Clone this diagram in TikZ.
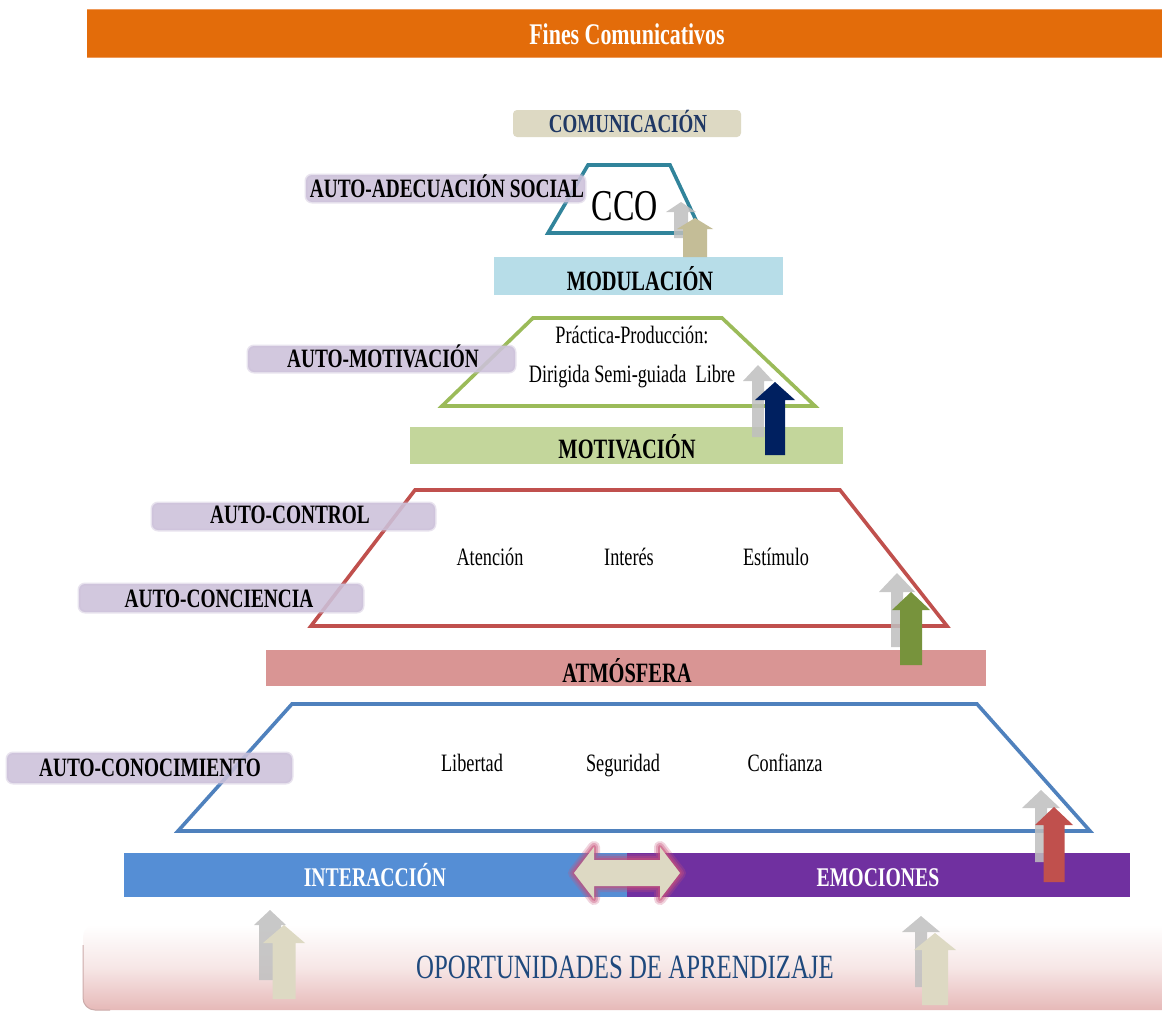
\documentclass[tikz,border=0pt]{standalone}
\usepackage{fontspec}
\setmainfont[FakeStretch=0.73]{Liberation Serif}

\definecolor{finesorange}{HTML}{E36C0A}
\definecolor{finesedge}{HTML}{EE9A5A}
\definecolor{commbg}{HTML}{DDD9C3}
\definecolor{commtext}{HTML}{1F3864}
\definecolor{ccoteal}{HTML}{31849B}
\definecolor{modbg}{HTML}{B7DDE8}
\definecolor{motline}{HTML}{9BBB59}
\definecolor{motbg}{HTML}{C3D69B}
\definecolor{atmline}{HTML}{C0504D}
\definecolor{atmbg}{HTML}{D99594}
\definecolor{knowline}{HTML}{4F81BD}
\definecolor{interbg}{HTML}{558ED5}
\definecolor{emobg}{HTML}{7030A0}
\definecolor{lav}{HTML}{CCC1DA}
\definecolor{navyarrow}{HTML}{002060}
\definecolor{greenarrow}{HTML}{77933C}
\definecolor{redarrow}{HTML}{C0504D}
\definecolor{sandarrow}{HTML}{C4BD97}
\definecolor{pale}{HTML}{DDD9C3}
\definecolor{shadowgray}{HTML}{BFBFBF}
\definecolor{opptext}{HTML}{1F497D}
\definecolor{oppbottom}{HTML}{E6B9B8}
\definecolor{glow}{HTML}{C8507A}

% upward block arrow: x, y of base, y of tip, y of head base, half shaft, half head, fill options
\newcommand\blockarrowup[7]{%
  \fill[#7] ({#1-#5},#2) -- ({#1-#5},#4) -- ({#1-#6},#4) -- (#1,#3)
    -- ({#1+#6},#4) -- ({#1+#5},#4) -- ({#1+#5},#2) -- cycle;}

\begin{document}
\begin{tikzpicture}[x=1pt,y=-1pt,
  bartext/.style={anchor=base, inner sep=0, font=\bfseries\fontsize{28}{28}\selectfont},
  sidetext/.style={anchor=base, inner sep=0, font=\bfseries\fontsize{26.5}{26.5}\selectfont},
  sidebox/.style={fill=lav, fill opacity=0.88, draw=lav, draw opacity=0.45, line width=3, rounded corners=6},
  stageword/.style={anchor=base, inner sep=0, font=\fontsize{25}{25}\selectfont},
  tier/.style={line width=3.6, fill=white, line join=miter},
  ghost/.style={fill=shadowgray, fill opacity=0.85}]

\useasboundingbox (0,0) rectangle (1162,1017);
\fill[white] (0,0) rectangle (1162,1017);

% title bar
\fill[finesorange] (87,9) rectangle (1162,58);
\draw[finesedge, line width=1.5] (87,9.5) -- (1162,9.5) (87,57.5) -- (1162,57.5);
\node[anchor=base, inner sep=0, text=white, font=\bfseries\fontsize{30}{30}\selectfont]
  (fines) at (627,44) {Fines Comunicativos};

% learning opportunities base
\shade[top color=white, bottom color=oppbottom, middle color=oppbottom!35, rounded corners=12]
  (83,925) rectangle (1190,1010);
\draw[oppbottom!75!gray, line width=1, rounded corners=12]
  (83,945) -- (83,1010) -- (110,1010);

% level bars
\fill[commbg, rounded corners=4] (513,110) rectangle (741,137);
\fill[modbg] (494,257) rectangle (783,295);
\fill[motbg] (410,427) rectangle (843,464);
\fill[atmbg] (266,650) rectangle (986,686);
\fill[interbg] (124,853) rectangle (627,897);
\fill[emobg] (627,853) rectangle (1130,897);

% pyramid tiers
\draw[tier, draw=ccoteal] (588,165) -- (670,165) -- (702,233) -- (548,233) -- cycle;
\draw[tier, draw=motline] (533,318) -- (722,318) -- (815,406) -- (442,406) -- cycle;
\draw[tier, draw=atmline] (415,490) -- (840,490) -- (947,626) -- (311,626) -- cycle;
\draw[tier, draw=knowline] (292,704) -- (977,704) -- (1090,831) -- (178,831) -- cycle;

% two-way arrow between interaction and emotions, with a soft halo
\foreach \w/\o in {12/0.25, 8/0.35, 4/0.5}
  \path[draw=glow, draw opacity=\o, line width=\w, line join=round]
    (574,873) -- (594,847) -- (594,860) -- (660,860) -- (660,847) -- (680,873)
    -- (660,899) -- (660,886) -- (594,886) -- (594,899) -- cycle;
\fill[pale] (574,873) -- (594,847) -- (594,860) -- (660,860) -- (660,847) -- (680,873)
  -- (660,899) -- (660,886) -- (594,886) -- (594,899) -- cycle;

% rising arrows with their grey shadows
\blockarrowup{681}{238}{202}{212}{7}{15}{ghost}
\blockarrowup{695}{257}{218}{229}{12}{18}{fill=sandarrow}
\blockarrowup{758}{437}{365}{381}{6}{15}{ghost}
\blockarrowup{775}{455}{382}{400}{10}{20}{fill=navyarrow}
\blockarrowup{897}{647}{573}{592}{6}{18}{ghost}
\blockarrowup{911}{665}{592}{610}{11}{19}{fill=greenarrow}
\blockarrowup{1041}{862}{790}{808}{6}{19}{ghost}
\blockarrowup{1054}{882}{807}{825}{10.5}{19}{fill=redarrow}
\blockarrowup{270}{980}{910}{925}{11}{16}{ghost}
\blockarrowup{284}{999}{925}{943}{11.5}{21}{fill=pale}
\blockarrowup{921}{987}{916}{932}{6}{19}{ghost}
\blockarrowup{935}{1005}{933}{950}{13}{21}{fill=pale}

% side labels
\path[sidebox] (306,175) rectangle (585,202);
\path[sidebox] (248,346) rectangle (515,372);
\path[sidebox] (152,503) rectangle (435,530);
\path[sidebox] (79,584) rectangle (363,612);
\path[sidebox] (7,753) rectangle (292,783);
\node[sidetext] (adecuacion) at (447,197) {AUTO-ADECUACIÓN SOCIAL};
\node[sidetext] (automot) at (383,367) {AUTO-MOTIVACIÓN};
\node[sidetext] (autocontrol) at (290,523) {AUTO-CONTROL};
\node[sidetext] (conciencia) at (219,607) {AUTO-CONCIENCIA};
\node[sidetext] (conocimiento) at (150,776) {AUTO-CONOCIMIENTO};

% bar titles
\node[anchor=base, inner sep=0, text=commtext, font=\bfseries\fontsize{26}{26}\selectfont]
  (comunicacion) at (628,132) {COMUNICACIÓN};
\node[bartext] (modulacion) at (640,290) {MODULACIÓN};
\node[bartext] (motivacion) at (627,458) {MOTIVACIÓN};
\node[bartext] (atmosfera) at (627,682) {ATMÓSFERA};
\node[anchor=base, inner sep=0, text=white, font=\bfseries\fontsize{27}{27}\selectfont]
  (interaccion) at (375,886) {INTERACCIÓN};
\node[anchor=base, inner sep=0, text=white, font=\bfseries\fontsize{27}{27}\selectfont]
  (emociones) at (878,886) {EMOCIONES};
\node[anchor=base, inner sep=0, text=opptext, font=\fontsize{34}{34}\selectfont]
  (oportunidades) at (625,978) {OPORTUNIDADES DE APRENDIZAJE};

% tier contents
\node[anchor=base, inner sep=0, font=\fontsize{44}{44}\selectfont] (cco) at (625,220) {CCO};
\node[stageword] (practica) at (632,343) {Práctica-Producción:};
\node[stageword] (modos) at (632,382) {Dirigida Semi-guiada\ \ Libre};
\node[stageword] (atencion) at (490,565) {Atención};
\node[stageword] (interes) at (629,565) {Interés};
\node[stageword] (estimulo) at (776,565) {Estímulo};
\node[stageword] (libertad) at (472,771) {Libertad};
\node[stageword] (seguridad) at (623,771) {Seguridad};
\node[stageword] (confianza) at (785,771) {Confianza};

\end{tikzpicture}
\end{document}
